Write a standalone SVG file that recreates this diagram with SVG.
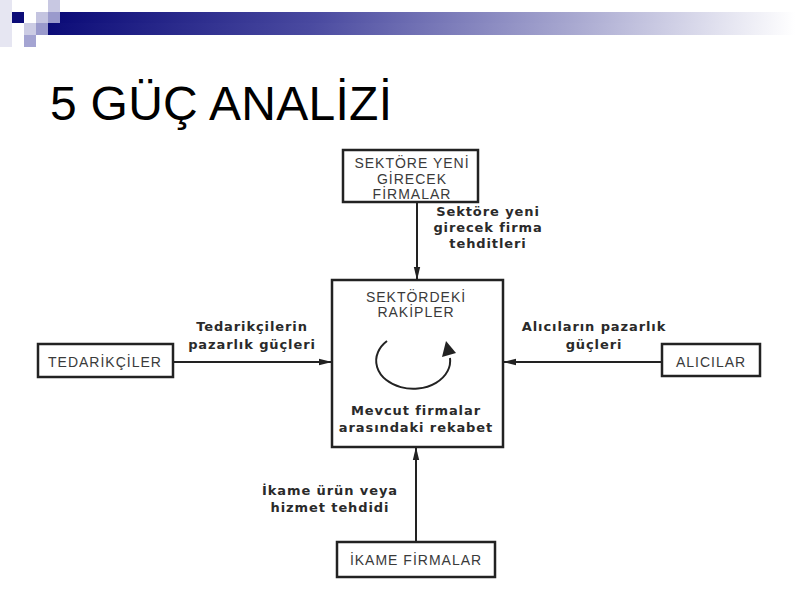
<svg xmlns="http://www.w3.org/2000/svg" width="800" height="600" viewBox="0 0 800 600">
<defs>
<linearGradient id="bar" x1="0" y1="0" x2="1" y2="0">
<stop offset="0" stop-color="#0c0c78"/>
<stop offset="0.35" stop-color="#4a4aa0"/>
<stop offset="0.7" stop-color="#a8a8d0"/>
<stop offset="1" stop-color="#ffffff"/>
</linearGradient>
<marker id="ah" markerWidth="14" markerHeight="8" refX="13" refY="4" orient="auto" markerUnits="userSpaceOnUse">
<path d="M0,0.8 L13,4 L0,7.2 Z" fill="#222"/>
</marker>
</defs>
<style>
.box{fill:#fff;stroke:#222;stroke-width:2.5}
.bt{font-family:"Liberation Sans",Arial,sans-serif;font-size:14px;letter-spacing:1px;fill:#3a3a3a;text-anchor:middle}
.lb{font-family:"DejaVu Sans","Liberation Sans",sans-serif;font-weight:bold;font-size:13px;letter-spacing:0.9px;fill:#2a2a2a;text-anchor:middle}
.cn{stroke:#222;stroke-width:2;fill:none}
</style>
<rect width="800" height="600" fill="#fff"/>
<g id="header">
<rect x="0" y="0" width="12" height="47" fill="#e6e6f2"/>
<rect x="48" y="0" width="12" height="12" fill="#c8c8e2"/>
<rect x="12" y="12" width="12" height="11" fill="#0c0c78"/>
<rect x="36" y="12" width="12" height="11" fill="#c4c4e0"/>
<rect x="48" y="12" width="12" height="11" fill="#9a9acc"/>
<rect x="24" y="23" width="12" height="12" fill="#ccccE4"/>
<rect x="36" y="23" width="12" height="12" fill="#9a9acc"/>
<rect x="24" y="35" width="12" height="12" fill="#a4a4d2"/>
<rect x="60" y="12" width="735" height="11" fill="url(#bar)"/>
<rect x="48" y="23" width="747" height="12" fill="url(#bar)"/>
<text x="50" y="120" font-family="Liberation Sans,Arial,sans-serif" font-size="48" textLength="342" fill="#000">5 GÜÇ ANALİZİ</text>
</g>
<g id="connectors">
<line class="cn" x1="417" y1="202" x2="417" y2="280" marker-end="url(#ah)"/>
<line class="cn" x1="173" y1="362" x2="332" y2="362" marker-end="url(#ah)"/>
<line class="cn" x1="662" y1="362" x2="503" y2="362" marker-end="url(#ah)"/>
<line class="cn" x1="416" y1="542" x2="416" y2="447" marker-end="url(#ah)"/>
<text class="lb" x="488" y="216">Sektöre yeni</text>
<text class="lb" x="488" y="232">girecek firma</text>
<text class="lb" x="488" y="248">tehditleri</text>
<text class="lb" x="252" y="331">Tedarikçilerin</text>
<text class="lb" x="252" y="349">pazarlık güçleri</text>
<text class="lb" x="594" y="331">Alıcıların pazarlık</text>
<text class="lb" x="594" y="349">güçleri</text>
<text class="lb" x="330" y="495">İkame ürün veya</text>
<text class="lb" x="330" y="512">hizmet tehdidi</text>
</g>
<g id="node-giris">
<rect class="box" x="343" y="150" width="135" height="52"/>
<text class="bt" x="412" y="168">SEKTÖRE YENİ</text>
<text class="bt" x="412" y="184">GİRECEK</text>
<text class="bt" x="412" y="199">FİRMALAR</text>
</g>
<g id="node-rakipler">
<rect class="box" x="332" y="280" width="171" height="167"/>
<text class="bt" x="416" y="302">SEKTÖRDEKİ</text>
<text class="bt" x="416" y="317">RAKİPLER</text>
<path d="M387 341 A37 28 0 1 0 450 358" fill="none" stroke="#222" stroke-width="2"/>
<polygon points="446,341 442,357 456,353" fill="#222"/>
<text class="lb" x="416" y="415">Mevcut firmalar</text>
<text class="lb" x="416" y="432">arasındaki rekabet</text>
</g>
<g id="node-tedarikciler">
<rect class="box" x="38" y="344" width="135" height="33"/>
<text class="bt" x="105" y="367">TEDARİKÇİLER</text>
</g>
<g id="node-alicilar">
<rect class="box" x="662" y="344" width="98" height="32"/>
<text class="bt" x="711" y="367">ALICILAR</text>
</g>
<g id="node-ikame">
<rect class="box" x="337" y="542" width="158" height="35"/>
<text class="bt" x="416" y="565">İKAME FİRMALAR</text>
</g>
</svg>
